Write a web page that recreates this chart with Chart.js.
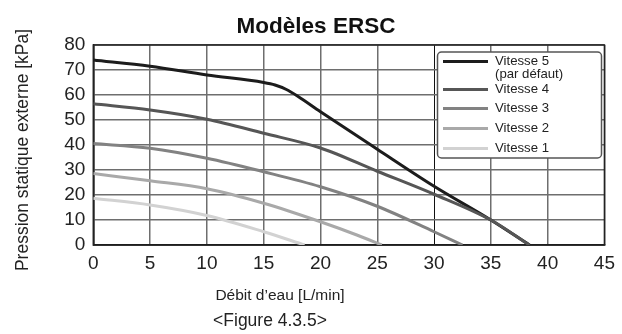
<!DOCTYPE html>
<html><head><meta charset="utf-8">
<script src="https://cdn.jsdelivr.net/npm/chart.js@4/dist/chart.umd.min.js"></script>
<style>html,body{margin:0;padding:0;background:#fff}#wrap{width:622px;height:334px}</style>
</head><body><div id="wrap"><canvas id="c"></canvas></div>
<script>
const titleText = "Modèles ERSC";
const yTitle = "Pression statique externe [kPa]";
const xTitle = "Débit d’eau [L/min]";
const figLabel = "<Figure 4.3.5>";
const seriesNames = ["Vitesse 5", "Vitesse 4", "Vitesse 3", "Vitesse 2", "Vitesse 1"];
const legendLabels = [["Vitesse 5", "(par défaut)"], ["Vitesse 4"], ["Vitesse 3"], ["Vitesse 2"], ["Vitesse 1"]];
const colors = ["#1c1c1c", "#565656", "#828282", "#a9a9a9", "#d2d2d2"];
const v5x = [0, 5, 10, 15, 16, 17, 18, 20, 25, 30, 35, 38.4];
const v5y = [74, 71.5, 68, 65, 64, 62.2, 59.5, 53.3, 38.3, 23.5, 10, 0];
const v4x = [0, 5, 10, 15, 20, 25, 30, 35, 38.4];
const v4y = [56.5, 54, 50.3, 44.7, 38.8, 29.5, 20.3, 10, 0];
const v3x = [0, 5, 10, 15, 20, 25, 30, 32.5];
const v3y = [40.6, 38.7, 34.7, 29.3, 23.3, 15.5, 5.3, 0];
const v2x = [0, 5, 10, 15, 20, 23.2, 25.4];
const v2y = [28.6, 25.7, 22.5, 16.7, 9.3, 4, 0];
const v1x = [0, 5, 10, 15, 18.6];
const v1y = [18.7, 16, 11.8, 5.3, 0];
const xTicks = [0, 5, 10, 15, 20, 25, 30, 35, 40, 45];
const yTicks = [0, 10, 20, 30, 40, 50, 60, 70, 80];

const allX = [v5x, v4x, v3x, v2x, v1x];
const allY = [v5y, v4y, v3y, v2y, v1y];
const datasets = seriesNames.map((n, i) => ({
  label: n,
  data: allX[i].map((x, j) => ({x: x, y: allY[i][j]})),
  borderColor: colors[i],
  borderWidth: 3,
  pointRadius: 0,
  fill: false,
  cubicInterpolationMode: 'monotone'
})).reverse();

const FONT = "'Liberation Sans', Arial, sans-serif";

const textPlugin = {
  id: 'texts',
  afterDraw(chart) {
    const ctx = chart.ctx;
    ctx.save();
    ctx.fillStyle = '#111';
    ctx.textAlign = 'center';
    ctx.textBaseline = 'alphabetic';
    ctx.font = "bold 22.5px " + FONT;
    ctx.fillText(titleText, 316, 32.5);
    ctx.font = "15.5px " + FONT;
    ctx.fillStyle = '#222';
    ctx.fillText(xTitle, 280, 300);
    ctx.font = "17.5px " + FONT;
    ctx.fillText(figLabel, 270, 326);
    ctx.save();
    ctx.translate(28, 150);
    ctx.rotate(-Math.PI / 2);
    ctx.font = "17.5px " + FONT;
    ctx.fillText(yTitle, 0, 0);
    ctx.restore();
    // legend
    const L = 437.5, T = 52, R = 601.5, B = 158;
    ctx.beginPath();
    ctx.roundRect(L, T, R - L, B - T, 4);
    ctx.fillStyle = '#fff';
    ctx.fill();
    ctx.lineWidth = 1.5;
    ctx.strokeStyle = '#555';
    ctx.stroke();
    const rowY = [61.5, 89.5, 108.5, 128.5, 148.5];
    ctx.font = "13.2px " + FONT;
    ctx.textAlign = 'left';
    ctx.textBaseline = 'middle';
    legendLabels.forEach((lines, i) => {
      ctx.beginPath();
      ctx.moveTo(443, rowY[i]);
      ctx.lineTo(488, rowY[i]);
      ctx.strokeStyle = colors[i];
      ctx.lineWidth = 3;
      ctx.stroke();
      ctx.fillStyle = '#222';
      lines.forEach((t, k) => ctx.fillText(t, 495, rowY[i] + k * 13));
    });
    ctx.restore();
  }
};

new Chart(document.getElementById('c'), {
  type: 'line',
  data: {datasets: datasets},
  options: {
    responsive: true,
    maintainAspectRatio: false,
    animation: false,
    layout: {padding: {top: 45, right: 12.7, left: 0, bottom: 0}},
    plugins: {legend: {display: false}, title: {display: false}, tooltip: {enabled: false}},
    scales: {
      x: {
        type: 'linear', min: 0, max: 45,
        afterBuildTicks: (s) => { s.ticks = xTicks.map(v => ({value: v})); },
        afterFit: (s) => { s.height = 334 - 245; },
        ticks: {font: {size: 19, family: FONT}, color: '#222', padding: 7, maxRotation: 0, autoSkip: false},
        grid: {
          drawTicks: false,
          color: (c) => c.tick && c.tick.value === 30 ? '#111' : '#6e6e6e',
          lineWidth: (c) => c.tick && c.tick.value === 30 ? 1 : 1.5
        },
        border: {display: true, color: '#111', width: 1.5}
      },
      y: {
        min: 0, max: 80,
        afterBuildTicks: (s) => { s.ticks = yTicks.map(v => ({value: v})); },
        afterFit: (s) => { s.width = 93.3; },
        ticks: {font: {size: 19, family: FONT}, color: '#222', padding: 8, autoSkip: false},
        grid: {drawTicks: false, color: '#6e6e6e', lineWidth: 1.5},
        border: {display: true, color: '#111', width: 1.5}
      }
    }
  },
  plugins: [textPlugin, {
    id: 'frame',
    beforeDatasetsDraw(chart) {
      const a = chart.chartArea, ctx = chart.ctx;
      ctx.save();
      ctx.strokeStyle = '#222';
      ctx.lineWidth = 1.5;
      ctx.strokeRect(a.left, a.top, a.right - a.left, a.bottom - a.top);
      ctx.restore();
    }
  }]
});
</script>
</body></html>
